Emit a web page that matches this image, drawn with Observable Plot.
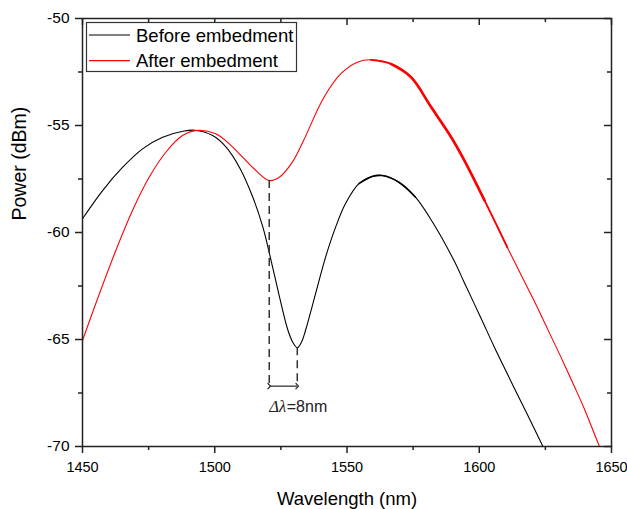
<!DOCTYPE html>
<html>
<head>
<meta charset="utf-8">
<script src="https://cdn.jsdelivr.net/npm/d3@7"></script>
<script src="https://cdn.jsdelivr.net/npm/@observablehq/plot@0.6"></script>
<style>
  body { margin: 0; background: #fff; }
  #wrap { position: relative; width: 627px; height: 509px; }
  #legend { position: absolute; left: 0; top: 0; pointer-events: none; }
</style>
</head>
<body>
<div id="wrap"></div>
<script>
// ---- data ----
const beforeLambda = [1450, 1457.6, 1465.2, 1472.7, 1480.3, 1487.9, 1492.5, 1499.2, 1504.3, 1509.3, 1514.4, 1518.2, 1521.3, 1524.5, 1527.7, 1529.6, 1531.2, 1532.8, 1534.3, 1538.1, 1541.9, 1545.7, 1549.4, 1554.5, 1559.5, 1563.3, 1569.6, 1575.9, 1583, 1590.4, 1594.2, 1600.5, 1605.5, 1610.6, 1614.3, 1618.2, 1623.9, 1630];
const beforePower  = [-59.36, -58.04, -56.95, -56.09, -55.55, -55.27, -55.22, -55.47, -56.01, -56.95, -58.35, -59.75, -61.31, -63.02, -64.58, -65.15, -65.38, -65.12, -64.58, -62.87, -61.15, -59.75, -58.66, -57.72, -57.38, -57.34, -57.65, -58.35, -59.65, -61.3, -62.3, -63.96, -65.3, -66.6, -67.54, -68.5, -69.95, -71.5];

const afterLambda = [1450, 1455, 1462.6, 1468.9, 1475.2, 1481.5, 1487.8, 1493.5, 1500.4, 1505.5, 1510.5, 1515.5, 1520.6, 1524.4, 1529.4, 1533.5, 1541.3, 1547.6, 1553.9, 1559, 1566.6, 1574.2, 1581.8, 1589.4, 1594.4, 1602, 1610.6, 1615.6, 1620.7, 1625.7, 1630.8, 1635.8, 1639.6, 1645.3, 1650];
const afterPower  = [-65.05, -63.33, -60.84, -58.97, -57.42, -56.25, -55.47, -55.23, -55.39, -55.86, -56.48, -57.1, -57.57, -57.42, -56.7, -55.72, -53.68, -52.59, -52.04, -51.93, -52.12, -52.74, -54.14, -55.55, -56.64, -58.5, -60.69, -61.93, -63.18, -64.48, -65.8, -67.15, -68.2, -69.95, -71.3];

const seriesNames = ["Before embedment", "After embedment"];
const seriesColors = ["#000000", "#ff0000"];

const xMajor = [1450, 1500, 1550, 1600, 1650];
const xMinor = [1475, 1525, 1575, 1625];
const yMajor = [-70, -65, -60, -55, -50];
const yMinor = [-67.5, -62.5, -57.5, -52.5];

const annotY = -67.18;      // level of the double arrow
const annotTextY = -68.15;  // level of the Δλ label
const annotText = ["Δλ", "=8nm"];

// ---- build tables ----
const before = beforeLambda.map((x, i) => ({x, y: beforePower[i]}));
const after = afterLambda.map((x, i) => ({x, y: afterPower[i]}));
const redDip = d3.least(after.filter(d => d.x > 1505 && d.x < 1535), d => d.y);
const blackDip = d3.least(before.filter(d => d.x > 1505 && d.x < 1545), d => d.y);

const W = 627, H = 509, mL = 82, mR = 16, mT = 18, mB = 63;
const pW = W - mL - mR, pH = H - mT - mB;
const axisColor = "#222";
const curve = "catmull-rom";

const chart = Plot.plot({
  width: W, height: H,
  marginLeft: mL, marginRight: mR, marginTop: mT, marginBottom: mB,
  style: {fontFamily: "'Liberation Sans', Arial, sans-serif", fontSize: "15px", color: "#000", background: "#fff"},
  x: {domain: [1450, 1650]},
  y: {domain: [-70, -50]},
  marks: [
    // curves
    Plot.line(before, {x: "x", y: "y", stroke: seriesColors[0], strokeWidth: 1.1, curve, clip: true}),
    Plot.line(before.filter(d => d.x >= 1554 && d.x <= 1576), {x: "x", y: "y", stroke: seriesColors[0], strokeWidth: 1.6, curve, clip: true}),
    Plot.line(after, {x: "x", y: "y", stroke: seriesColors[1], strokeWidth: 1.1, curve, clip: true}),
    Plot.line(after.filter(d => d.x >= 1559 && d.x <= 1611), {x: "x", y: "y", stroke: seriesColors[1], strokeWidth: 1.8, curve, clip: true}),
    Plot.line(after.filter(d => d.x >= 1566 && d.x <= 1602), {x: "x", y: "y", stroke: seriesColors[1], strokeWidth: 2.6, curve, clip: true}),
    // annotation
    Plot.ruleX([redDip], {x: "x", y1: "y", y2: () => annotY, stroke: "#333", strokeWidth: 1.5, strokeDasharray: "8,5"}),
    Plot.ruleX([blackDip], {x: "x", y1: "y", y2: () => annotY, stroke: "#333", strokeWidth: 1.5, strokeDasharray: "8,5"}),
    Plot.link([{a: redDip.x, b: blackDip.x}], {x1: "a", x2: "b", y1: () => annotY, y2: () => annotY, stroke: "#333", strokeWidth: 1.3, markerStart: "arrow", markerEnd: "arrow"}),
    Plot.text([annotText[0]], {x: () => redDip.x, y: () => annotTextY, text: d => d, textAnchor: "start", lineAnchor: "middle", fontSize: 16.5, fontStyle: "italic", fontFamily: "'Liberation Serif', 'Times New Roman', serif", fill: "#222"}),
    Plot.text([annotText[1]], {x: () => redDip.x, y: () => annotTextY, text: d => d, textAnchor: "start", lineAnchor: "middle", dx: 17.5, fontSize: 16, fill: "#222"}),
    // frame
    Plot.frame({stroke: axisColor, strokeWidth: 1.5}),
    // ticks: bottom & left outward, top & right inward
    Plot.ruleX(xMajor, {x: d => d, insetTop: pH, insetBottom: -7, stroke: axisColor, strokeWidth: 1.5}),
    Plot.ruleX(xMinor, {x: d => d, insetTop: pH, insetBottom: -4, stroke: axisColor, strokeWidth: 1.5}),
    Plot.ruleX(xMajor, {x: d => d, insetBottom: pH - 7, stroke: axisColor, strokeWidth: 1.5}),
    Plot.ruleX(xMinor, {x: d => d, insetBottom: pH - 4, stroke: axisColor, strokeWidth: 1.5}),
    Plot.ruleY(yMajor, {y: d => d, insetLeft: -7, insetRight: pW, stroke: axisColor, strokeWidth: 1.5}),
    Plot.ruleY(yMinor, {y: d => d, insetLeft: -4, insetRight: pW, stroke: axisColor, strokeWidth: 1.5}),
    Plot.ruleY(yMajor, {y: d => d, insetLeft: pW - 7, stroke: axisColor, strokeWidth: 1.5}),
    Plot.ruleY(yMinor, {y: d => d, insetLeft: pW - 4, stroke: axisColor, strokeWidth: 1.5}),
    // tick labels
    Plot.axisX(xMajor, {tickSize: 0, tickPadding: 15, tickFormat: d => String(d), label: null, fontSize: 14.5}),
    Plot.axisY(yMajor, {tickSize: 0, tickPadding: 13, tickFormat: d => String(d), label: null, fontSize: 15.5}),
    // axis titles
    Plot.text(["Wavelength (nm)"], {frameAnchor: "bottom", dy: 53, lineAnchor: "middle", fontSize: 18.5, fill: "#000"}),
    Plot.text(["Power (dBm)"], {frameAnchor: "left", dx: -63, dy: -12, rotate: -90, lineAnchor: "middle", fontSize: 19.5, fill: "#000"})
  ]
});

const wrap = document.getElementById("wrap");
wrap.appendChild(chart);

// legend (overlay inside the plot frame, top-left)
const leg = d3.select(wrap).append("svg").attr("id", "legend").attr("width", W).attr("height", H);
leg.append("rect").attr("x", 86.5).attr("y", 22.5).attr("width", 210).attr("height", 49)
  .attr("fill", "#fff").attr("stroke", "#333").attr("stroke-width", 1.2);
seriesNames.forEach((name, i) => {
  const cy = 35 + i * 25.7;
  leg.append("line").attr("x1", 89).attr("x2", 130).attr("y1", cy).attr("y2", cy)
    .attr("stroke", seriesColors[i]).attr("stroke-width", 1.2);
  leg.append("text").attr("x", 136).attr("y", cy + 6.7).text(name)
    .attr("font-family", "'Liberation Sans', Arial, sans-serif").attr("font-size", 18.5).attr("fill", "#000");
});
</script>
</body>
</html>
